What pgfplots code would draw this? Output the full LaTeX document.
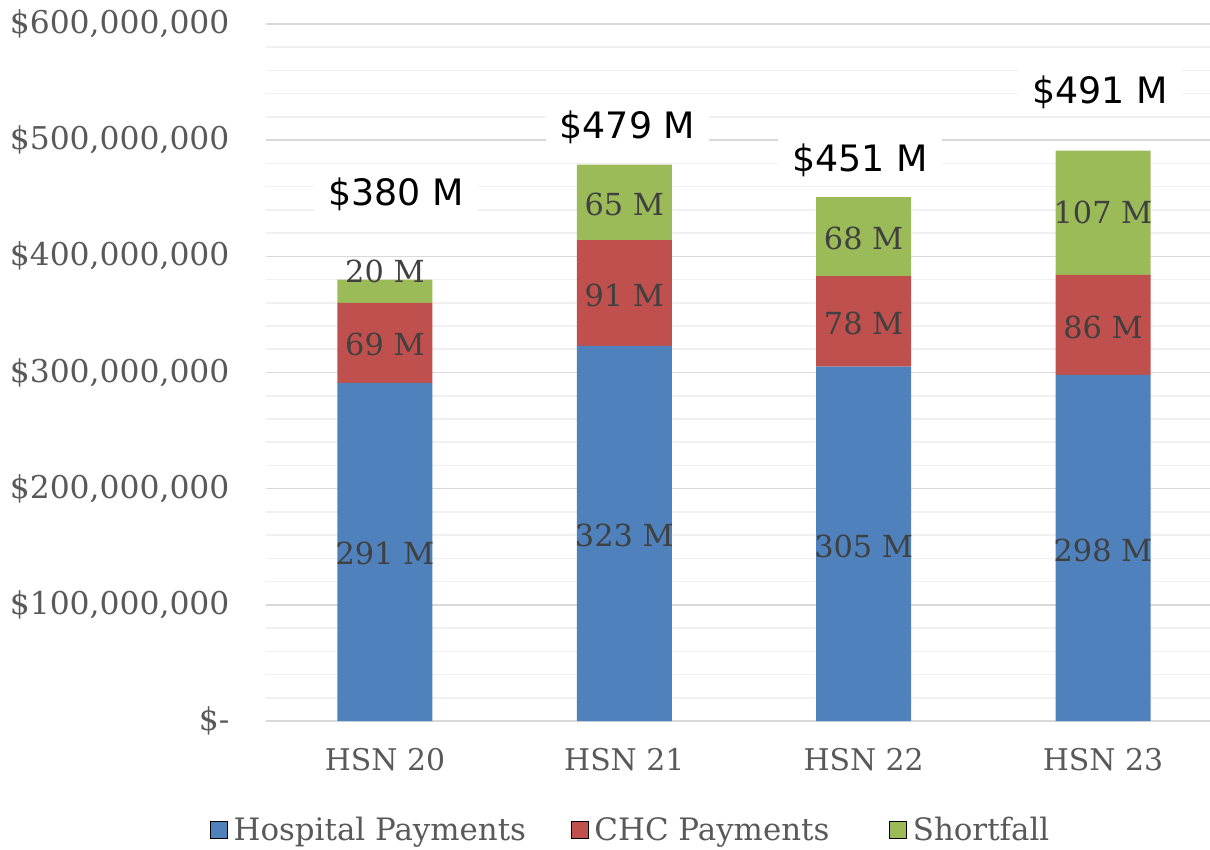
\documentclass[border=0pt]{standalone}
\usepackage{pgfplots}
\pgfplotsset{compat=1.18}
\usepackage{fontspec}
\setmainfont{DejaVu Serif}
\newfontfamily\totfont{DejaVu Sans}
\definecolor{hosp}{HTML}{4F81BD}
\definecolor{chc}{HTML}{C0504D}
\definecolor{shortf}{HTML}{9BBB59}
\definecolor{tickgray}{HTML}{595959}
\definecolor{lblgray}{HTML}{404040}
\definecolor{gridmaj}{HTML}{D9D9D9}
\definecolor{gridmin}{HTML}{F0F0F0}
\begin{document}
\begin{tikzpicture}
\begin{axis}[
  scale only axis, width=944bp, height=697bp,
  xmin=-0.497, xmax=3.447, ymin=0, ymax=600,
  ybar stacked, bar width=0.397,
  xtick={0,1,2,3}, xticklabels={HSN 20,HSN 21,HSN 22,HSN 23},
  ytick={0,100,200,300,400,500,600},
  yticklabels={\$-,{\$100,000,000},{\$200,000,000},{\$300,000,000},{\$400,000,000},{\$500,000,000},{\$600,000,000}},
  minor y tick num=4,
  ymajorgrids, yminorgrids,
  major grid style={draw=gridmaj, line width=1.6bp},
  minor grid style={draw=gridmin, line width=1.6bp},
  axis line style={draw=none},
  major tick length=0pt, minor tick length=0pt,
  tick label style={text=tickgray},
  yticklabel style={font=\fontsize{31.5}{36}\selectfont, xshift=-33bp},
  xticklabel style={font=\fontsize{30}{35}\selectfont, yshift=-24bp},
  legend style={draw=none, fill=none, at={(-0.0625,-0.1557)}, anchor=west,
    legend columns=-1, font=\fontsize{31}{36}\selectfont, text=tickgray,
    /tikz/column 1/.style={column sep=4bp},
    /tikz/column 3/.style={column sep=4bp},
    /tikz/column 5/.style={column sep=4bp},
    /tikz/column 2/.style={column sep=43bp},
    /tikz/column 4/.style={column sep=58bp}},
  legend cell align=left,
  area legend,
  legend image post style={yscale=3},
  clip=false,
]
\addplot[fill=hosp, draw=none] coordinates {(0,291) (1,323) (2,305) (3,298)};
\addplot[fill=chc, draw=none] coordinates {(0,69) (1,91) (2,78) (3,86)};
\addplot[fill=shortf, draw=none] coordinates {(0,20) (1,65) (2,68) (3,107)};
\legend{Hospital Payments, CHC Payments, Shortfall}
\coordinate (a1) at (axis cs:0,144);
\coordinate (a2) at (axis cs:0,324);
\coordinate (a3) at (axis cs:0,387);
\coordinate (b1) at (axis cs:1,160);
\coordinate (b2) at (axis cs:1,366);
\coordinate (b3) at (axis cs:1,445);
\coordinate (c1) at (axis cs:2,150);
\coordinate (c2) at (axis cs:2,342);
\coordinate (c3) at (axis cs:2,415);
\coordinate (d1) at (axis cs:3,147);
\coordinate (d2) at (axis cs:3,339);
\coordinate (d3) at (axis cs:3,438);
\coordinate (t1) at (axis cs:0.046,453);
\coordinate (t2) at (axis cs:1.013,511);
\coordinate (t3) at (axis cs:1.985,483);
\coordinate (t4) at (axis cs:2.987,541);
\end{axis}
\begin{scope}[every node/.style={font=\fontsize{30.5}{35}\selectfont, text=lblgray}]
\node at (a1) {291 M};
\node at (a2) {69 M};
\node at (a3) {20 M};
\node at (b1) {323 M};
\node at (b2) {91 M};
\node at (b3) {65 M};
\node at (c1) {305 M};
\node at (c2) {78 M};
\node at (c3) {68 M};
\node at (d1) {298 M};
\node at (d2) {86 M};
\node at (d3) {107 M};
\end{scope}
\begin{scope}[every node/.style={font=\totfont\fontsize{36.5}{42}\selectfont, text=black, fill=white, inner xsep=14bp, inner ysep=6bp}]
\node at (t1) {\$380 M};
\node at (t2) {\$479 M};
\node at (t3) {\$451 M};
\node at (t4) {\$491 M};
\end{scope}
\pgfresetboundingbox
\path ([xshift=-266bp,yshift=-129bp]current axis.south west) rectangle ([yshift=24bp]current axis.north east);
\end{tikzpicture}
\end{document}
